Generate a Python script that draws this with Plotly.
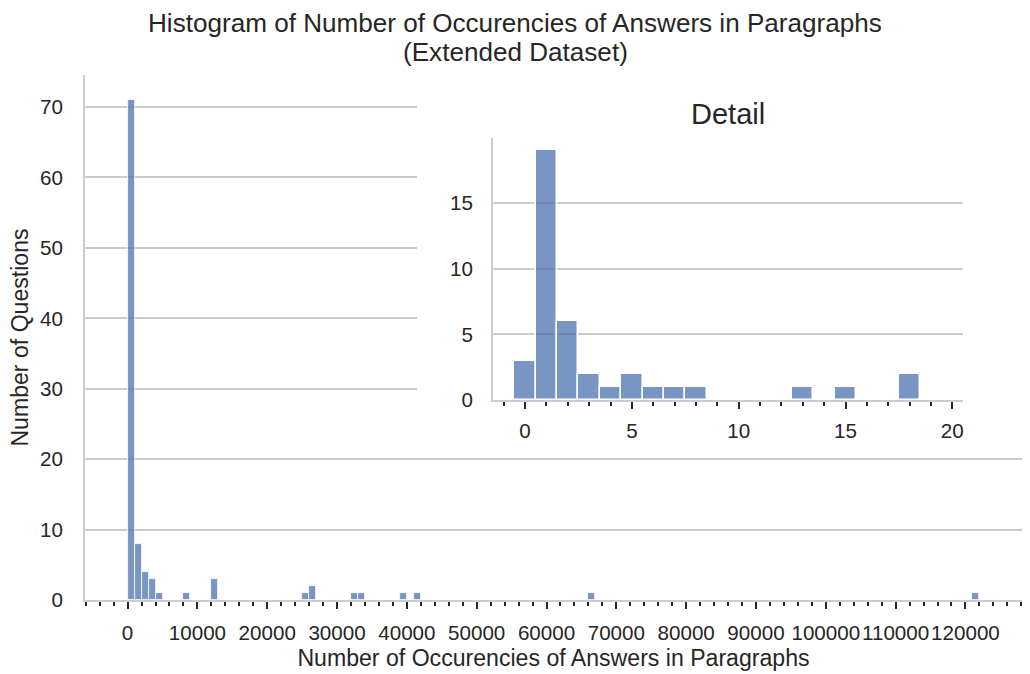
import plotly.graph_objects as go

# ---- data ----
main_bin_left = [0, 1000, 2000, 3000, 4000, 8000, 12000, 25000, 26000,
                 32000, 33000, 39000, 41000, 66000, 121000]
main_counts = [71, 8, 4, 3, 1, 1, 3, 1, 2, 1, 1, 1, 1, 1, 1]
main_bin_width = 1000

detail_values = [0, 1, 2, 3, 4, 5, 6, 7, 8, 13, 15, 18]
detail_counts = [3, 19, 6, 2, 1, 2, 1, 1, 1, 1, 1, 2]

title_line1 = "Histogram of Number of Occurencies of Answers in Paragraphs"
title_line2 = "(Extended Dataset)"
x_title = "Number of Occurencies of Answers in Paragraphs"
y_title = "Number of Questions"
inset_title = "Detail"

# ---- style ----
FONT = "Liberation Sans, Arial, sans-serif"
TXT = "#262626"
SPINE = "#cccccc"
BAR = "rgba(76,114,176,0.75)"
TICK_SIZE = 20.6
LABEL_SIZE = 23.1
TITLE_SIZE = 26.1
INSET_TITLE_SIZE = 29

W, H = 1030, 674
L, R, T, B = 85, 8, 75, 74
PW, PH = W - L - R, H - T - B


def px_x(px):
    return (px - L) / PW


def px_y(py):
    return (H - B - py) / PH


fig = go.Figure()

fig.add_trace(go.Bar(
    x=main_bin_left, y=main_counts, width=main_bin_width, offset=0,
    marker=dict(color=BAR, line=dict(color="white", width=0.8)),
    xaxis="x", yaxis="y", hoverinfo="x+y"))

# invisible subplot whose white background hides the main grid behind the inset
fig.add_trace(go.Scatter(x=[None], y=[None], xaxis="x2", yaxis="y2",
                         hoverinfo="skip", showlegend=False))

fig.add_trace(go.Bar(
    x=detail_values, y=detail_counts, width=1,
    marker=dict(color=BAR, line=dict(color="white", width=1.5)),
    xaxis="x3", yaxis="y3", hoverinfo="x+y"))

tickfont = dict(family=FONT, size=TICK_SIZE, color=TXT)
hidden = dict(visible=False, showgrid=False, zeroline=False, showline=False,
              fixedrange=True)

fig.update_layout(
    width=W, height=H,
    margin=dict(l=L, r=R, t=T, b=B, autoexpand=False),
    paper_bgcolor="white", plot_bgcolor="white",
    showlegend=False, bargap=0,
    font=dict(family=FONT, color=TXT),
    xaxis=dict(
        domain=[0, 1], anchor="y",
        range=[-6100, 128100],
        tickmode="linear", tick0=0, dtick=10000, tickformat="d",
        ticks="outside", ticklen=7, tickwidth=2, tickcolor=TXT,
        tickangle=0, tickfont=tickfont, ticklabelstandoff=6,
        minor=dict(tickmode="linear", tick0=0, dtick=2000, ticks="outside",
                   ticklen=4, tickwidth=1.5, tickcolor=TXT, showgrid=False),
        showgrid=False, zeroline=False,
        showline=True, linecolor=SPINE, linewidth=1.8,
        title=dict(text=x_title, font=dict(family=FONT, size=LABEL_SIZE, color=TXT),
                   standoff=7),
    ),
    yaxis=dict(
        domain=[0, 1], anchor="x",
        range=[0, 74.55],
        tickmode="linear", tick0=0, dtick=10,
        ticks="outside", ticklen=16, tickcolor="rgba(0,0,0,0)",
        tickfont=tickfont,
        showgrid=True, gridcolor=SPINE, gridwidth=1.5,
        zeroline=False,
        showline=True, linecolor=SPINE, linewidth=1.8,
        title=dict(text=y_title, font=dict(family=FONT, size=LABEL_SIZE, color=TXT),
                   standoff=5),
    ),
    xaxis2=dict(domain=[px_x(417), 1.0], anchor="y2", range=[0, 1], **hidden),
    yaxis2=dict(domain=[px_y(447), 1.0], anchor="x2", range=[0, 1], **hidden),
    xaxis3=dict(
        domain=[px_x(493), px_x(963)], anchor="y3",
        range=[-1.5, 20.5],
        tickmode="linear", tick0=0, dtick=5,
        ticks="outside", ticklen=7, tickwidth=2, tickcolor=TXT,
        tickangle=0, tickfont=tickfont, ticklabelstandoff=4,
        minor=dict(tickmode="linear", tick0=0, dtick=1, ticks="outside",
                   ticklen=4, tickwidth=1.5, tickcolor=TXT, showgrid=False),
        showgrid=False, zeroline=False,
        showline=True, linecolor=SPINE, linewidth=1.8,
    ),
    yaxis3=dict(
        domain=[px_y(400), px_y(138)], anchor="x3",
        range=[0, 19.95],
        tickmode="linear", tick0=0, dtick=5,
        ticks="outside", ticklen=14, tickcolor="rgba(0,0,0,0)",
        tickfont=tickfont,
        showgrid=True, gridcolor=SPINE, gridwidth=1.5,
        zeroline=False,
        showline=True, linecolor=SPINE, linewidth=1.8,
    ),
    annotations=[
        dict(text=title_line1, xref="paper", yref="paper",
             x=px_x(515), y=px_y(23), xanchor="center", yanchor="middle",
             showarrow=False, font=dict(family=FONT, size=TITLE_SIZE, color=TXT)),
        dict(text=title_line2, xref="paper", yref="paper",
             x=px_x(515), y=px_y(52), xanchor="center", yanchor="middle",
             showarrow=False, font=dict(family=FONT, size=TITLE_SIZE, color=TXT)),
        dict(text=inset_title, xref="paper", yref="paper",
             x=px_x(728), y=px_y(114), xanchor="center", yanchor="middle",
             showarrow=False, font=dict(family=FONT, size=INSET_TITLE_SIZE, color=TXT)),
    ],
)

fig.write_html(
    "out.html",
    config={"displayModeBar": False},
    post_script="document.body.style.margin='0';document.body.style.overflow='hidden';",
)
